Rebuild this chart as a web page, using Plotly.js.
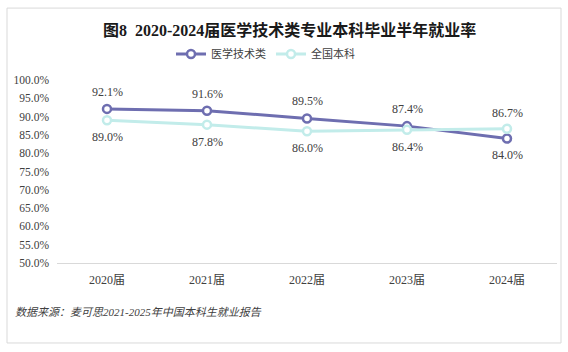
<!DOCTYPE html>
<html><head><meta charset="utf-8">
<script src="https://cdn.plot.ly/plotly-3.0.1.min.js"></script>
<style>html,body{margin:0;padding:0;background:#fff;}#chart{width:568px;height:352px;}</style>
</head><body><div id="chart"></div>
<script>
const categories = ['2020届','2021届','2022届','2023届','2024届'];
const seriesNames = ['医学技术类','全国本科'];
const medTech = [92.1, 91.6, 89.5, 87.4, 84.0];
const national = [89.0, 87.8, 86.0, 86.4, 86.7];
const colors = ['#6e6eb0', '#c2ecea'];
const FONT = '"Liberation Serif", "DejaVu Serif", "Noto Sans CJK SC", serif';

function tr(vals, name, color) {
  return {type:'scatter', mode:'lines+markers', x:categories, y:vals, name:name,
    line:{color:color, width:3},
    marker:{symbol:'circle', size:8, color:'#ffffff', line:{color:color, width:2.5}},
    hoverinfo:'skip'};
}
const annotations = [];
categories.forEach((c,i)=>{
  const a = medTech[i], b = national[i];
  const aAbove = a >= b;
  annotations.push({x:c, y:a, xref:'x', yref:'y', text:a.toFixed(1)+'%', showarrow:false, yshift: aAbove?17:-16, font:{family:FONT,size:12,color:'#404040'}});
  annotations.push({x:c, y:b, xref:'x', yref:'y', text:b.toFixed(1)+'%', showarrow:false, yshift: aAbove?-17:16, font:{family:FONT,size:12,color:'#404040'}});
});
annotations.push({xref:'paper', yref:'paper', x:-0.088, y:-0.268, xanchor:'left', yanchor:'middle', showarrow:false,
  text:'<i>数据来源：麦可思2021-2025年中国本科生就业报告</i>', font:{family:FONT, size:11, color:'#404040'}});

const layout = {
  width:568, height:352,
  margin:{l:57, r:11, t:80, b:89},
  paper_bgcolor:'#ffffff', plot_bgcolor:'#ffffff',
  title:{text:'<b>图8  2020-2024届医学技术类专业本科毕业半年就业率</b>', x:0.51, xanchor:'center', y:0.915, yanchor:'middle', yref:'container',
    font:{family:FONT, size:16, color:'#1a1a1a'}},
  showlegend:true,
  legend:{orientation:'h', x:0.228, xanchor:'left', y:1.142, yanchor:'middle', font:{family:FONT, size:11, color:'#404040'}, itemwidth:30, tracegroupgap:0, bgcolor:'rgba(0,0,0,0)'},
  xaxis:{type:'category', range:[-0.5, 4.5], showgrid:false, zeroline:false, showline:true, linecolor:'#d9d9d9', linewidth:1, ticks:'', ticklabelstandoff:6, tickfont:{family:FONT, size:12, color:'#404040'}, fixedrange:true},
  yaxis:{range:[50,100], dtick:5, tick0:50, tickformat:'.1f', ticksuffix:'%', showgrid:false, zeroline:false, showline:false, ticks:'', ticklabelstandoff:7, tickfont:{family:FONT, size:11.5, color:'#404040'}, fixedrange:true},
  shapes:[{type:'rect', xref:'paper', yref:'paper', x0:-0.1, x1:1.008, y0:-0.437, y1:1.393, line:{color:'#d9d9d9', width:1}, fillcolor:'rgba(0,0,0,0)', layer:'below'}],
  annotations:annotations
};
Plotly.newPlot('chart', [tr(medTech, seriesNames[0], colors[0]), tr(national, seriesNames[1], colors[1])], layout, {displayModeBar:false, staticPlot:true});
</script></body></html>
